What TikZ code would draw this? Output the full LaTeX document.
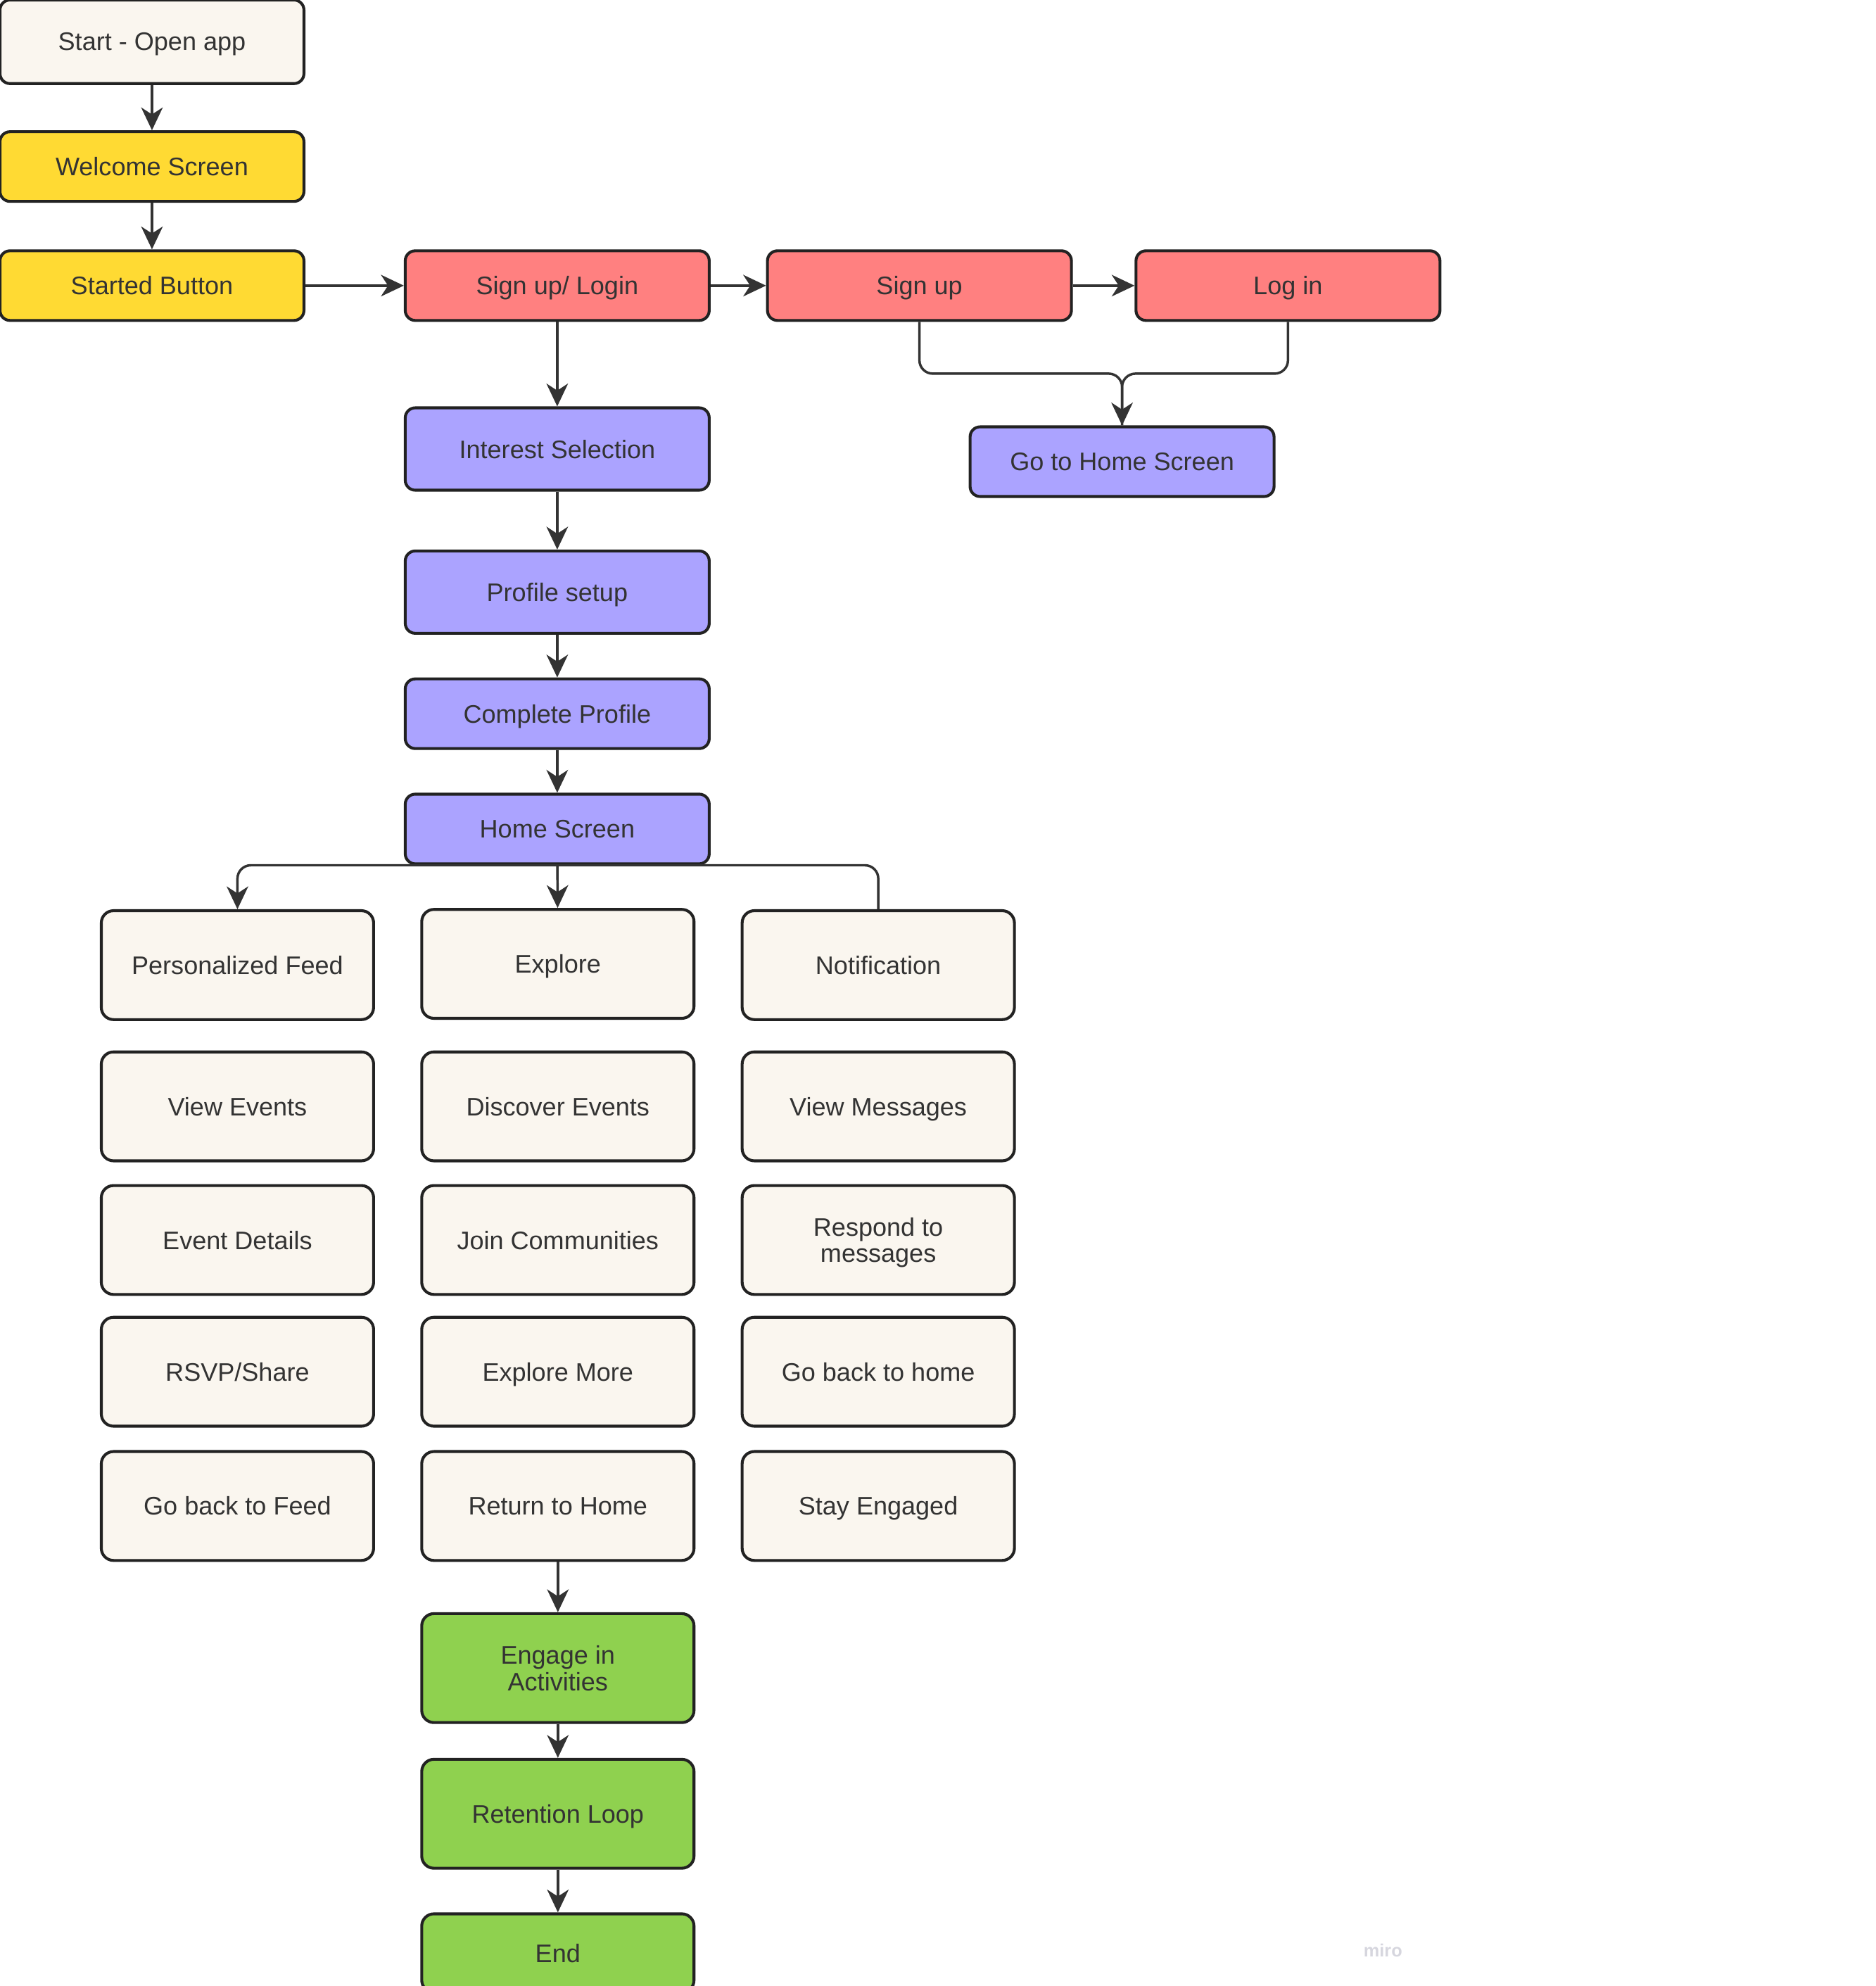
\documentclass[tikz,border=0pt]{standalone}
\usepackage{fontspec}
\setmainfont{Liberation Sans}
\usetikzlibrary{arrows.meta,positioning}
\definecolor{Ink}{HTML}{222222}
\definecolor{Wire}{HTML}{333333}
\definecolor{Cream}{HTML}{FAF6EF}
\definecolor{Sun}{HTML}{FFDA33}
\definecolor{Coral}{HTML}{FF8080}
\definecolor{Lilac}{HTML}{ABA3FF}
\definecolor{Leaf}{HTML}{8FD14F}
\definecolor{Mark}{HTML}{D6D6DE}
\tikzset{
 block/.style={draw=Ink,line width=1.3pt,rounded corners=4.5pt,align=center,text=Wire,
   font=\fontsize{11.4}{11.8}\selectfont,minimum width=4.8cm,minimum height=1.1cm,inner sep=2pt,text depth=0pt},
 entry/.style={block,fill=Cream,minimum height=1.32cm},
 sunny/.style={block,fill=Sun},
 coral/.style={block,fill=Coral},
 lilac/.style={block,fill=Lilac},
 tile/.style={block,fill=Cream,minimum width=4.3cm,minimum height=1.72cm,rounded corners=5.5pt},
 leaf/.style={tile,fill=Leaf},
 arr/.style={-{Stealth[length=3.6mm,width=3.4mm,inset=1.1mm]},line width=1.1pt,draw=Wire},
 wire/.style={line width=1.1pt,draw=Wire}
}
\begin{document}
\begin{tikzpicture}[x=0.2mm,y=-0.2mm]
\useasboundingbox (0,0) rectangle (1481,1568);
\node[entry] (start) at (120,33) {Start - Open app};
\node[sunny] (wel) at (120,131.5) {Welcome Screen};
\node[sunny] (btn) at (120,225.5) {Started Button};
\node[coral] (sul) at (440,225.5) {Sign up/ Login};
\node[coral] (sup) at (726,225.5) {Sign up};
\node[coral] (lin) at (1017,225.5) {Log in};
\node[lilac] (gohome) at (886,364.5) {Go to Home Screen};
\node[lilac,minimum height=1.3cm] (int) at (440,354.5) {Interest Selection};
\node[lilac,minimum height=1.3cm] (prof) at (440,467.5) {Profile setup};
\node[lilac] (comp) at (440,563.5) {Complete Profile};
\node[lilac] (home) at (440,654.5) {Home Screen};
\node[tile] (feed) at (187.5,762) {Personalized Feed};
\node[tile] (expl) at (440.5,761) {Explore};
\node[tile] (notif) at (693.5,762) {Notification};
\node[tile] (view) at (187.5,873.5) {View Events};
\node[tile] (disc) at (440.5,873.5) {Discover Events};
\node[tile] (msg) at (693.5,873.5) {View Messages};
\node[tile] (det) at (187.5,979) {Event Details};
\node[tile] (join) at (440.5,979) {Join Communities};
\node[tile] (resp) at (693.5,979) {Respond to\\messages};
\node[tile] (rsvp) at (187.5,1083) {RSVP/Share};
\node[tile] (more) at (440.5,1083) {Explore More};
\node[tile] (back) at (693.5,1083) {Go back to home};
\node[tile] (feedback) at (187.5,1189) {Go back to Feed};
\node[tile] (ret) at (440.5,1189) {Return to Home};
\node[tile] (stay) at (693.5,1189) {Stay Engaged};
\node[leaf] (eng) at (440.5,1317) {Engage in\\Activities};
\node[leaf] (loop) at (440.5,1432) {Retention Loop};
\node[leaf,minimum height=1.24cm] (fin) at (440.5,1542) {End};
\node[text=Mark,font=\fontsize{8}{9}\selectfont\bfseries] (wm) at (1092,1540) {miro};
\coordinate (j) at (886,295);
\draw[arr] (start)--(wel);\draw[arr] (wel)--(btn);\draw[arr] (btn)--(sul);
\draw[arr] (sul)--(sup);\draw[arr] (sup)--(lin);
\draw[arr,rounded corners=6pt] (sup.south)|-(j)--(gohome.north);
\draw[wire,rounded corners=6pt] (lin.south)|-(j)--(gohome.north);
\draw[arr] (sul)--(int);\draw[arr] (int)--(prof);\draw[arr] (prof)--(comp);\draw[arr] (comp)--(home);
\draw[arr,rounded corners=6pt] (home.south)-|(feed.north);
\draw[wire,rounded corners=6pt] (home.south)-|(notif.north);
\draw[arr] (home)--(expl);
\draw[arr] (ret)--(eng);\draw[arr] (eng)--(loop);\draw[arr] (loop)--(fin);
\end{tikzpicture}
\end{document}
